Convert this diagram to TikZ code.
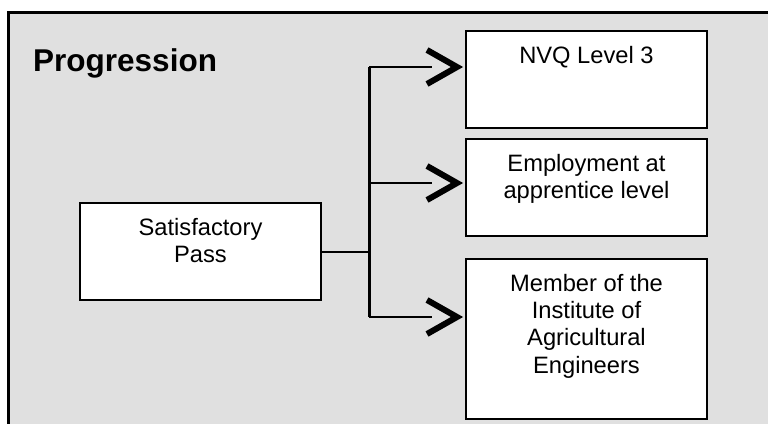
\documentclass[tikz,border=0pt]{standalone}
\usepackage{fontspec}
\setmainfont{Liberation Sans}
\usepackage{xcolor}
\usetikzlibrary{positioning, calc}
\definecolor{panelgrey}{HTML}{E0E0E0}

\begin{document}
\begin{tikzpicture}[x=1pt, y=1pt,
    box/.style={draw, fill=white, line width=2pt, inner sep=0pt,
                minimum width=241pt, minimum height=97pt, anchor=north west},
    boxtext/.style={inner sep=0pt, align=center,
                    font=\fontsize{23.7}{27.3}\selectfont},
    link/.style={line width=2pt},
    chevron/.style={line width=6pt, line join=miter}]
  \useasboundingbox (0,0) rectangle (768,-423);
  % grey panel, open at the right and at the bottom
  \fill[panelgrey] (8.5,-12.5) rectangle (790,-440);
  \draw[line width=2.5pt] (8.5,-440) |- (790,-12.5);

  \node[inner sep=0pt, anchor=base west, font=\bfseries\fontsize{31.5}{36}\selectfont]
    (title) at (33,-71) {Progression};

  % boxes
  \node[box] (sat) at (79,-202) {};
  \node[box] (nvq) at (465,-30) {};
  \node[box] (job) at (465,-138) {};
  \node[box, minimum height=160pt] (member) at (465,-258) {};

  \node[boxtext, below=16pt of sat.north] (sat-text) {Satisfactory\\Pass};
  \node[boxtext, below=16pt of nvq.north] (nvq-text) {NVQ Level 3};
  \node[boxtext, below=16pt of job.north] (job-text) {Employment at\\apprentice level};
  \node[boxtext, below=16pt of member.north] (member-text)
    {Member of the\\Institute of\\Agricultural\\Engineers};

  % trunk
  \coordinate (trunk) at (369,-250);
  \coordinate (lvl-nvq) at (369,-67);
  \coordinate (lvl-job) at (369,-183);
  \coordinate (lvl-member) at (369,-317);
  \draw[link] (sat.east) -- (sat.east -| trunk);
  \draw[line width=3pt] (lvl-nvq) -- (lvl-member);

  % branches with open chevrons
  \foreach \dest in {nvq, job, member} {
    \coordinate (tip-\dest) at ($(\dest.west |- lvl-\dest)+(-8,0)$);
    \draw[link] (lvl-\dest) -- ($(tip-\dest)+(-25,0)$);
    \draw[chevron] ($(tip-\dest)+(-30,17)$) -- (tip-\dest) -- ($(tip-\dest)+(-30,-17)$);
  }
\end{tikzpicture}
\end{document}
